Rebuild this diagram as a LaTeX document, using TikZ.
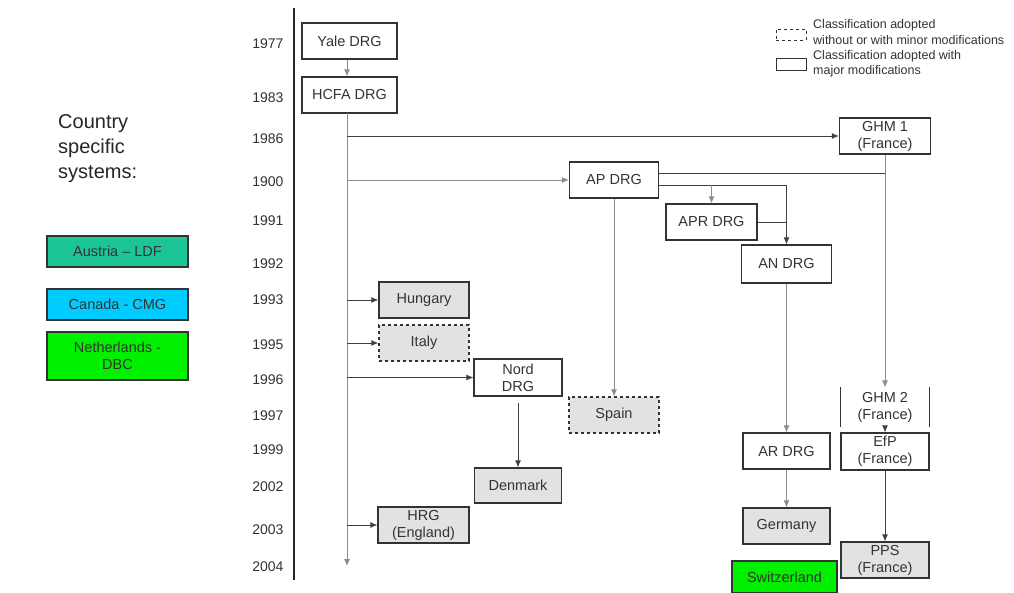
\documentclass[tikz,border=0pt]{standalone}
\usepackage{fontspec}
\setmainfont{Liberation Sans}
\usetikzlibrary{arrows.meta,calc}
\definecolor{boxgray}{HTML}{E2E2E2}
\definecolor{linegray}{HTML}{8C8C8C}
\definecolor{textgray}{HTML}{333333}
\definecolor{austria}{HTML}{1CC596}
\definecolor{canada}{HTML}{00CCFF}
\definecolor{nlgreen}{HTML}{00F000}
\begin{document}
\begin{tikzpicture}[x=1pt,y=-1pt,
  box/.style={draw=textgray,line width=1.1pt,minimum width=90pt,minimum height=36pt,inner sep=1pt,align=center,font=\fontsize{14.5}{17}\selectfont,text=textgray},
  gbox/.style={box,fill=boxgray},
  dbox/.style={gbox,dashed},
  cbox/.style={draw=textgray,line width=1.1pt,minimum width=141pt,inner sep=1pt,align=center,font=\fontsize{14.5}{17}\selectfont,text=black!80},
  year/.style={anchor=east,font=\fontsize{14}{16}\selectfont,text=textgray},
  arr/.style={-{Latex[length=7pt,width=6pt]},line width=1pt,draw=black!75},
  garr/.style={arr,draw=linegray},
  ln/.style={line width=1pt,draw=black!75},
  gln/.style={line width=1pt,draw=linegray},
  leg/.style={anchor=west,inner sep=0pt,font=\fontsize{12.5}{14}\selectfont,text=textgray}]
\useasboundingbox (0,0) rectangle (1014,592);
% axis
\draw[line width=1.2pt,black!85] (294,8) -- (294,580);
% years
\node[year] (y1977) at (287,44) {1977};
\node[year] (y1983) at (287,98) {1983};
\node[year] (y1986) at (287,139) {1986};
\node[year] (y1990) at (287,182) {1900};
\node[year] (y1991) at (287,221) {1991};
\node[year] (y1992) at (287,264) {1992};
\node[year] (y1993) at (287,300) {1993};
\node[year] (y1995) at (287,345) {1995};
\node[year] (y1996) at (287,380) {1996};
\node[year] (y1997) at (287,416) {1997};
\node[year] (y1999) at (287,450) {1999};
\node[year] (y2002) at (287,487) {2002};
\node[year] (y2003) at (287,530) {2003};
\node[year] (y2004) at (287,567) {2004};
% left panel
\node[anchor=north west,align=left,inner sep=0pt,font=\fontsize{20}{25}\selectfont,text=black!85] (country) at (58,114) {Country\\specific\\systems:};
\node[cbox,fill=austria,minimum height=31pt] (austria) at (117.5,251.5) {Austria -- LDF};
\node[cbox,fill=canada,minimum height=31pt] (canada) at (117.5,304.5) {Canada - CMG};
\node[cbox,fill=nlgreen,minimum height=48pt] (netherlands) at (117.5,356) {Netherlands -\\DBC};
% legend
\node[draw=textgray,dashed,line width=0.9pt,minimum width=30pt,minimum height=11pt,inner sep=0pt] (legdash) at (791,34.5) {};
\node[draw=textgray,line width=0.9pt,minimum width=30pt,minimum height=12pt,inner sep=0pt] (legsolid) at (791,64) {};
\node[leg] (legt1) at (813,25) {Classification adopted};
\node[leg] (legt2) at (813,40) {without or with minor modifications};
\node[leg] (legt3) at (813,56) {Classification adopted with};
\node[leg] (legt4) at (813,71) {major modifications};
% boxes
\node[box,minimum width=95pt] (yale) at (349.5,41) {Yale DRG};
\node[box,minimum width=95pt] (hcfa) at (349.5,95) {HCFA DRG};
\node[box,minimum width=91pt] (ghm1) at (885,136) {GHM 1\\(France)};
\node[box,minimum width=89pt] (apdrg) at (614,180) {AP DRG};
\node[box,minimum width=91pt] (aprdrg) at (711.5,222) {APR DRG};
\node[box,minimum height=38pt] (andrg) at (786.5,264) {AN DRG};
\node[gbox] (hungary) at (424,300) {Hungary};
\node[dbox] (italy) at (424,343) {Italy};
\node[box,minimum width=88pt,minimum height=37pt] (nord) at (518,377.5) {Nord\\DRG};
\node[dbox] (spain) at (614,415) {Spain};
\node[box,draw=none,minimum width=88pt,minimum height=38pt] (ghm2) at (885,407) {GHM 2\\(France)};
\draw[line width=1.1pt,textgray] (ghm2.north west) -- (ghm2.south west) (ghm2.north east) -- (ghm2.south east);
\node[box,minimum width=88pt,minimum height=37pt] (efp) at (885,451.5) {EfP\\(France)};
\node[box,minimum width=87pt] (ardrg) at (786.5,451) {AR DRG};
\node[gbox,minimum width=87pt] (germany) at (786.5,526) {Germany};
\node[gbox,minimum width=87pt,minimum height=35pt] (denmark) at (518,485.5) {Denmark};
\node[gbox,minimum width=91pt] (hrg) at (423.5,525) {HRG\\(England)};
\node[gbox,minimum width=88pt] (pps) at (885,560) {PPS\\(France)};
\node[box,fill=nlgreen,minimum width=105pt,minimum height=32pt,text=black!80] (switz) at (784.5,577) {Switzerland};
% connectors
\coordinate (t) at (347,113);
\coordinate (tend) at (347,566);
\draw[garr] ([xshift=-2.5pt]yale.south) -- ([xshift=-2.5pt]hcfa.north);
\draw[garr] (t) -- (tend);
\draw[arr] (t |- ghm1.west) -- (ghm1.west);
\draw[garr] (t |- apdrg.west) -- (apdrg.west);
\draw[arr] (t |- hungary.west) -- (hungary.west);
\draw[arr] (t |- italy.west) -- (italy.west);
\draw[arr] (t |- nord.west) -- (nord.west);
\draw[arr] (t |- hrg.west) -- (hrg.west);
\coordinate (ap1) at ([yshift=7pt]apdrg.east);
\coordinate (ap2) at ([yshift=-5pt]apdrg.east);
\draw[ln] (ap1) -- (ap1 -| ghm1.south);
\draw[garr] (ghm1.south) -- (ghm2.north);
\draw[arr] (ap2) -- (ap2 -| andrg.north) -- (andrg.north);
\draw[garr] (ap2 -| aprdrg.north) -- (aprdrg.north);
\draw[ln] (aprdrg.east) -- (aprdrg.east -| andrg.north);
\draw[garr] (apdrg.south) -- (spain.north);
\draw[garr] (andrg.south) -- (ardrg.north);
\draw[garr] (ardrg.south) -- (germany.north);
\draw[arr] (ghm2.south) -- (efp.north);
\draw[arr] (efp.south) -- (pps.north);
\draw[arr] ([yshift=-6pt]nord.south) -- (denmark.north);
\end{tikzpicture}
\end{document}
